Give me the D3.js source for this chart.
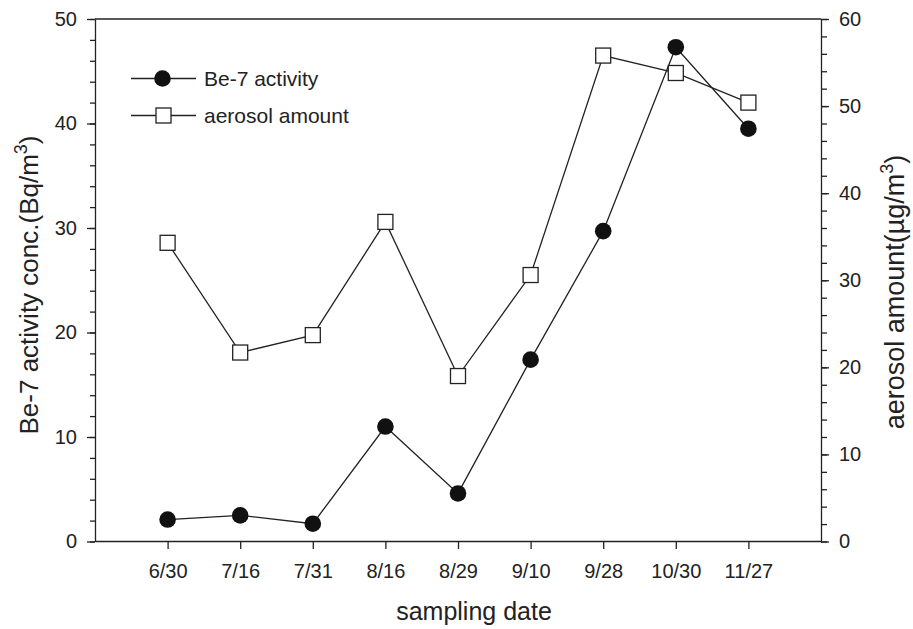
<!DOCTYPE html>
<html>
<head>
<meta charset="utf-8">
<script src="https://cdn.jsdelivr.net/npm/d3@7"></script>
<style>
  body { margin: 0; background: #fff; }
  svg text { font-family: "Liberation Sans", Arial, sans-serif; fill: #222; }
</style>
</head>
<body>
<div class="chart"></div>
<script>
const dates = ["6/30", "7/16", "7/31", "8/16", "8/29", "9/10", "9/28", "10/30", "11/27"];
const be7 = [2.1, 2.5, 1.7, 11.0, 4.6, 17.4, 29.7, 47.3, 39.5];
const aerosol = [34.3, 21.7, 23.7, 36.7, 19.0, 30.6, 55.8, 53.8, 50.4];
const leftTicks = [0, 10, 20, 30, 40, 50];
const rightTicks = [0, 10, 20, 30, 40, 50, 60];

const width = 913, height = 629;
const margin = { top: 19, right: 92, bottom: 88, left: 95 };

const svg = d3.select(".chart")
    .append("svg")
    .attr("width", width)
    .attr("height", height);

const x = d3.scaleLinear().domain([0, 10]).range([margin.left, width - margin.right]);
const yL = d3.scaleLinear().domain([0, 50]).range([height - margin.bottom + 0.5, margin.top]);
const yR = d3.scaleLinear().domain([0, 60]).range([height - margin.bottom + 0.5, margin.top]);

const ink = "#222";

// minor ticks
svg.append("g")
    .attr("transform", "translate(" + margin.left + ",0)")
    .call(d3.axisLeft(yL).tickValues(d3.range(0, 51, 2)).tickSize(5).tickFormat(""))
    .call(g => g.select(".domain").remove());
svg.append("g")
    .attr("transform", "translate(" + (width - margin.right) + ",0)")
    .call(d3.axisRight(yR).tickValues(d3.range(0, 61, 2)).tickSize(6).tickFormat(""))
    .call(g => g.select(".domain").remove());

// major axes
svg.append("g")
    .attr("transform", "translate(" + margin.left + ",0)")
    .call(d3.axisLeft(yL).tickValues(leftTicks).tickSize(8).tickPadding(10).tickSizeOuter(0));
svg.append("g")
    .attr("transform", "translate(" + (width - margin.right) + ",0)")
    .call(d3.axisRight(yR).tickValues(rightTicks).tickSize(8).tickPadding(10).tickSizeOuter(0));
svg.append("g")
    .attr("transform", "translate(0," + (height - margin.bottom) + ")")
    .call(d3.axisBottom(x).tickValues(d3.range(1, dates.length + 1))
        .tickFormat((d) => dates[d - 1]).tickSize(8).tickPadding(15).tickSizeOuter(0));

svg.selectAll(".domain, .tick line").attr("stroke", ink).attr("stroke-width", 1.3);
svg.selectAll(".tick text").style("font-size", "20px").attr("fill", ink);

// top frame line
svg.append("line")
    .attr("x1", margin.left).attr("x2", width - margin.right)
    .attr("y1", margin.top).attr("y2", margin.top)
    .attr("stroke", ink).attr("stroke-width", 1.3);

// axis titles
svg.append("text")
    .attr("x", 474)
    .attr("y", 620)
    .attr("text-anchor", "middle")
    .style("font-size", "25px")
    .text("sampling date");

const lt = svg.append("text")
    .attr("transform", "translate(38,285) rotate(-90)")
    .attr("text-anchor", "middle")
    .style("font-size", "26px");
lt.append("tspan").text("Be-7 activity conc.(Bq/m");
lt.append("tspan").attr("dy", -11).style("font-size", "18px").text("3");
lt.append("tspan").attr("dy", 11).text(")");

const rt = svg.append("text")
    .attr("transform", "translate(904,292) rotate(-90)")
    .attr("text-anchor", "middle")
    .style("font-size", "27px");
rt.append("tspan").text("aerosol amount(\u00b5g/m");
rt.append("tspan").attr("dy", -11).style("font-size", "18px").text("3");
rt.append("tspan").attr("dy", 11).text(")");

// lines
const lineL = d3.line().x((d, i) => x(i + 1)).y((d) => yL(d));
const lineR = d3.line().x((d, i) => x(i + 1)).y((d) => yR(d));

svg.append("path").datum(aerosol)
    .attr("d", lineR).attr("fill", "none").attr("stroke", ink).attr("stroke-width", 1.3);
svg.append("path").datum(be7)
    .attr("d", lineL).attr("fill", "none").attr("stroke", ink).attr("stroke-width", 1.3);

svg.selectAll("rect.aero")
    .data(aerosol)
    .enter()
    .append("rect")
    .attr("class", "aero")
    .attr("x", (d, i) => x(i + 1) - 7.5)
    .attr("y", (d) => yR(d) - 7.5)
    .attr("width", 15).attr("height", 15)
    .attr("fill", "#fff").attr("stroke", ink).attr("stroke-width", 1.3);

svg.selectAll("circle.be7")
    .data(be7)
    .enter()
    .append("circle")
    .attr("class", "be7")
    .attr("cx", (d, i) => x(i + 1))
    .attr("cy", (d) => yL(d))
    .attr("r", 8.3)
    .attr("fill", "#111");

// legend
const legend = svg.append("g");
legend.append("line").attr("x1", 131).attr("x2", 196).attr("y1", 78.5).attr("y2", 78.5)
    .attr("stroke", ink).attr("stroke-width", 1.3);
legend.append("circle").attr("cx", 162.5).attr("cy", 78.5).attr("r", 8.3).attr("fill", "#111");
legend.append("text").attr("x", 204).attr("y", 86).style("font-size", "21px").text("Be-7 activity");

legend.append("line").attr("x1", 131).attr("x2", 196).attr("y1", 115.5).attr("y2", 115.5)
    .attr("stroke", ink).attr("stroke-width", 1.3);
legend.append("rect").attr("x", 156).attr("y", 108).attr("width", 15).attr("height", 15)
    .attr("fill", "#fff").attr("stroke", ink).attr("stroke-width", 1.3);
legend.append("text").attr("x", 204).attr("y", 123).style("font-size", "21px").text("aerosol amount");
</script>
</body>
</html>
